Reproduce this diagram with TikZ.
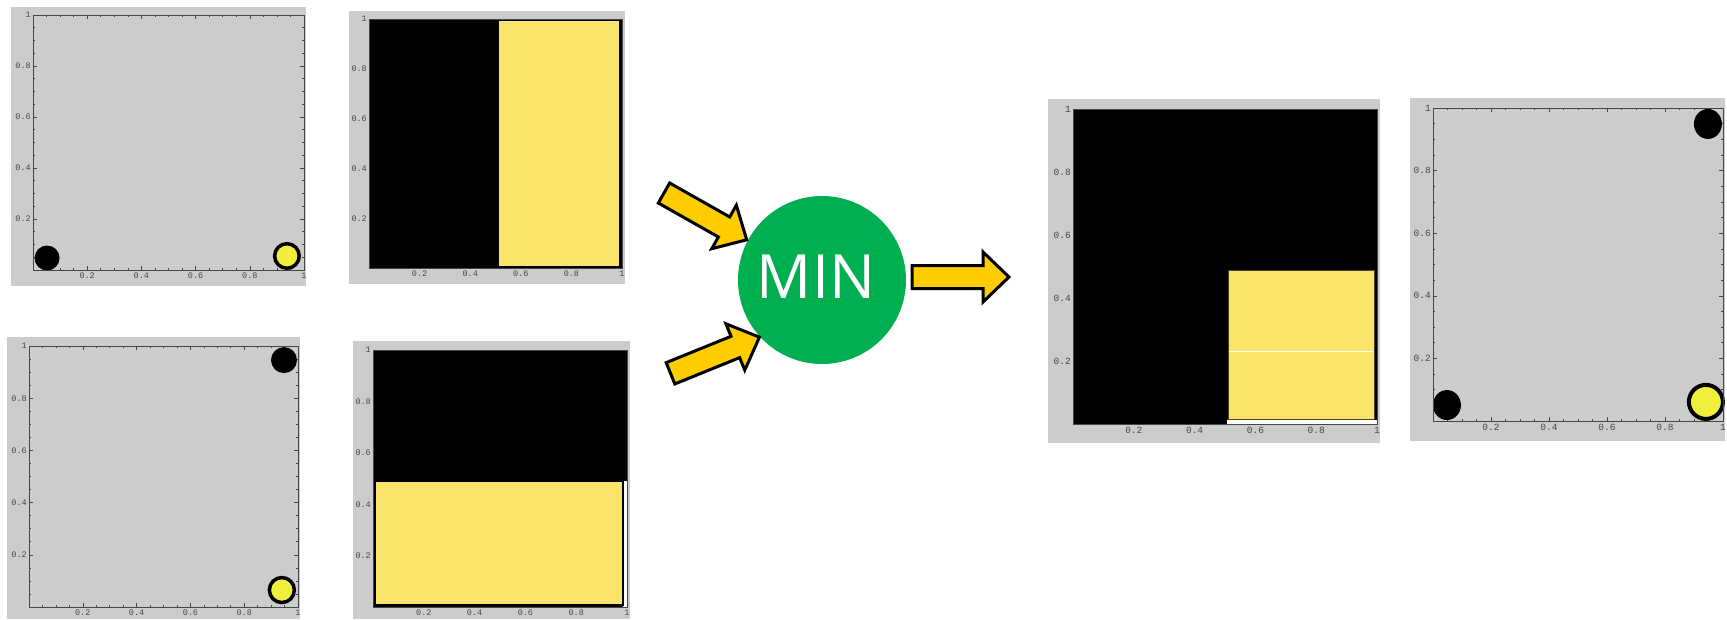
\documentclass[tikz,border=0pt]{standalone}
\usepackage{fontspec}
\newfontfamily\ticksfont{Liberation Mono}
\newfontfamily\minfont{Open Sans}
\definecolor{panelgray}{RGB}{204,204,204}
\definecolor{barfill}{RGB}{250,229,106}
\definecolor{dotyellow}{RGB}{240,240,60}
\definecolor{arrowyellow}{RGB}{255,204,0}
\definecolor{mingreen}{RGB}{0,176,80}
\definecolor{tickgray}{RGB}{70,70,70}
\tikzset{
  panelbg/.style={fill=panelgray},
  tickline/.style={draw=tickgray, line width=0.6pt},
  frameline/.style={draw=tickgray, line width=0.9pt},
  blackdot/.style={fill=black},
  yellowdot/.style={fill=dotyellow, draw=black, line width=3.5pt},
  barrect/.style={fill=barfill, draw=black!70!barfill, line width=0.8pt},
  fatarrowstyle/.style={fill=arrowyellow, draw=black, line width=3pt, line join=miter},
  minbubble/.style={circle, fill=mingreen, minimum size=168pt, inner sep=0pt},
  mintextstyle/.style={text=white, inner sep=0pt, font=\minfont\fontsize{61}{61}\selectfont},
}
% ticks drawn in unit coordinates of a panel scope
\newcommand\plotticks{%
  \foreach \t in {0.05,0.1,0.15,0.25,0.3,0.35,0.45,0.5,0.55,0.65,0.7,0.75,0.85,0.9,0.95}{
    \draw[tickline] (\t,0) -- ++(0,2pt);
    \draw[tickline] (\t,1) -- ++(0,-2pt);
    \draw[tickline] (0,\t) -- ++(2pt,0);
    \draw[tickline] (1,\t) -- ++(-2pt,0);
  }
  \foreach \t in {0.2,0.4,0.6,0.8}{
    \draw[tickline] (\t,0) -- ++(0,4pt);
    \draw[tickline] (\t,1) -- ++(0,-4pt);
    \draw[tickline] (0,\t) -- ++(4pt,0);
    \draw[tickline] (1,\t) -- ++(-4pt,0);
  }
}
\newcommand\plotlabels[1]{%
  \draw[frameline] (0,0) rectangle (1,1);
  \foreach \t in {0.2,0.4,0.6,0.8}{
    \node[text=tickgray, inner sep=0pt, anchor=north, font=\ticksfont\fontsize{#1}{#1}\selectfont] at ([yshift=-3pt]\t,0) {\t};
    \node[text=tickgray, inner sep=0pt, anchor=east, font=\ticksfont\fontsize{#1}{#1}\selectfont] at ([xshift=-2pt]0,\t) {\t};
  }
  \node[text=tickgray, inner sep=0pt, anchor=north, font=\ticksfont\fontsize{#1}{#1}\selectfont] at ([yshift=-3pt]1,0) {1};
  \node[text=tickgray, inner sep=0pt, anchor=east, font=\ticksfont\fontsize{#1}{#1}\selectfont] at ([xshift=-2pt]0,1) {1};
}
\newcommand\fatarrow[3]{%
  \begin{scope}[shift={#1}, rotate=#2]
    \draw[fatarrowstyle] (0,-11.5) -- ({#3-26},-11.5) -- ({#3-26},-25) -- (#3,0)
      -- ({#3-26},25) -- ({#3-26},11.5) -- (0,11.5) -- cycle;
  \end{scope}}
\begin{document}
\begin{tikzpicture}[x=1pt,y=1pt]
\useasboundingbox (0,0) rectangle (1727,-619);
\fill[white] (0,0) rectangle (1727,-619);

% ---- panel 1 (top left)
\fill[panelbg] (11,-7) rectangle (306,-286);
\begin{scope}[shift={(33,-270)}, x=271pt, y=255pt]
  \plotticks
  \fill[blackdot] (0.052,0.047) circle[radius=12.5pt];
  \draw[yellowdot] (0.937,0.055) circle[radius=12.3pt];
  \plotlabels{8.5}
\end{scope}

% ---- panel 2 (top, second)
\fill[panelbg] (349,-11) rectangle (625,-284);
\begin{scope}[shift={(369,-268)}, x=253pt, y=249pt]
  \fill[black] (0,0) rectangle (1,1);
  \fill[barfill, draw=black, line width=2pt] (0.508,0.006) rectangle (0.994,0.994);
  \plotlabels{8.5}
\end{scope}

% ---- panel 3 (bottom left)
\fill[panelbg] (7,-337) rectangle (300,-619);
\begin{scope}[shift={(29,-607)}, x=269pt, y=261pt]
  \plotticks
  \fill[blackdot] (0.948,0.946) circle[radius=13pt];
  \draw[yellowdot] (0.94,0.065) circle[radius=12.5pt];
  \plotlabels{8.5}
\end{scope}

% ---- panel 4 (bottom, second)
\fill[panelbg] (353,-341) rectangle (630,-619);
\begin{scope}[shift={(373,-607)}, x=254pt, y=257pt]
  \fill[black] (0,0) rectangle (1,1);
  \fill[white] (0.985,0) rectangle (1,0.492);
  \fill[barfill, draw=black, line width=2pt] (0.006,0.006) rectangle (0.984,0.49);
  \plotlabels{8.5}
\end{scope}

% ---- panel 5 (result image)
\fill[panelbg] (1048,-99) rectangle (1380,-443);
\begin{scope}[shift={(1073,-424)}, x=304pt, y=315pt]
  \fill[black] (0,0) rectangle (1,1);
  \fill[white] (0.508,0) rectangle (1,0.012);
  \fill[barrect] (0.51,0.016) rectangle (0.99,0.489);
  \draw[white, line width=0.8pt] (0.512,0.232) -- (0.988,0.232);
  \plotlabels{9.5}
\end{scope}

% ---- panel 6 (result points)
\fill[panelbg] (1410,-98) rectangle (1725,-441);
\begin{scope}[shift={(1433,-421)}, x=290pt, y=313pt]
  \plotticks
  \fill[blackdot] (0.948,0.949) ellipse[x radius=14pt, y radius=15pt];
  \fill[blackdot] (0.048,0.051) ellipse[x radius=14pt, y radius=15pt];
  \draw[yellowdot, line width=4pt] (0.941,0.061) circle[radius=17pt];
  \plotlabels{9.5}
\end{scope}

% ---- MIN operator
\node[minbubble] (min) at (822,-280) {};
\node[mintextstyle] (mintext) at (816,-277) {MIN};

% ---- block arrows
\fatarrow{(664,-193)}{-29.5}{95}
\fatarrow{(670.5,-373.3)}{22.1}{96}
\fatarrow{(912,-277)}{0}{97}
\end{tikzpicture}
\end{document}
